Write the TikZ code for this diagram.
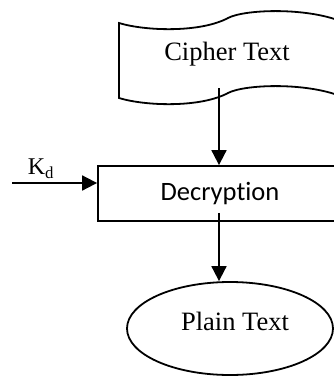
\documentclass[tikz,border=0pt]{standalone}
\usepackage{fontspec}
\setmainfont{Liberation Serif}
\newfontfamily\calibri[Ligatures=NoCommon]{Carlito}
\usetikzlibrary{arrows.meta, positioning, shapes.geometric}

\begin{document}
\begin{tikzpicture}[x=1pt, y=-1pt, line width=1.8pt,
    arr/.style={-{Triangle[length=15pt,width=15pt]}},
    big/.style={font=\fontsize{26.5}{30}\selectfont, inner sep=0pt}]
    \useasboundingbox (0,0) rectangle (334,376);
    \clip (0,0) rectangle (334,376);

    % punched tape
    \draw (119,23) .. controls (145,31) and (200,33) .. (228,18)
        .. controls (245,9) and (310,7) .. (345,23) -- (345,98)
        .. controls (310,82) and (245,84) .. (228,93)
        .. controls (200,108) and (145,106) .. (119,98) -- cycle;
    \node[big] (cipher) at (227,54) {Cipher Text};
    \coordinate (cipherout) at (219,88);

    \node[draw, rectangle, minimum width=244pt, minimum height=55pt,
        font=\calibri\fontsize{26.5}{30}\selectfont] (dec) at (220,193.5) {Decryption};

    \node[draw, ellipse, minimum width=206pt, minimum height=93pt] (plain) at (230,328.5) {};
    \node[big] (plaintxt) at (235,321) {Plain Text};

    \coordinate (kin) at (12,183);
    \node[font=\fontsize{24}{28}\selectfont, inner sep=0pt] (kd) at (41,169) {K\textsubscript{d}};

    \draw[arr] (cipherout) -- (dec.north -| cipherout);
    \draw[arr] ([yshift=9pt]dec.south -| cipherout) -- (plain.north -| cipherout);
    \draw[arr] (kin) -- (kin -| dec.west);
\end{tikzpicture}
\end{document}
